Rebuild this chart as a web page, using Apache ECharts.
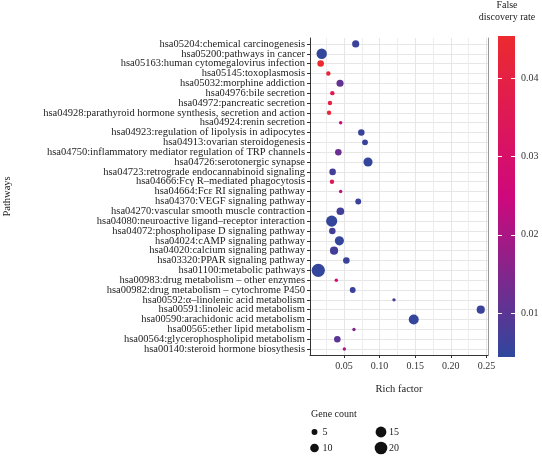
<!DOCTYPE html>
<html>
<head>
<meta charset="utf-8">
<title></title>
<script src="https://cdn.jsdelivr.net/npm/echarts@6/dist/echarts.min.js"></script>
<style>
  html, body { margin: 0; padding: 0; background: #fff; }
  #chart { width: 542px; height: 456px; }
</style>
</head>
<body>
<div id="chart"></div>
<script>
// pathways from top to bottom
var pathways = [
  'hsa05204:chemical carcinogenesis',
  'hsa05200:pathways in cancer',
  'hsa05163:human cytomegalovirus infection',
  'hsa05145:toxoplasmosis',
  'hsa05032:morphine addiction',
  'hsa04976:bile secretion',
  'hsa04972:pancreatic secretion',
  'hsa04928:parathyroid hormone synthesis, secretion and action',
  'hsa04924:renin secretion',
  'hsa04923:regulation of lipolysis in adipocytes',
  'hsa04913:ovarian steroidogenesis',
  'hsa04750:inflammatory mediator regulation of TRP channels',
  'hsa04726:serotonergic synapse',
  'hsa04723:retrograde endocannabinoid signaling',
  'hsa04666:Fc\u03b3 R\u2013mediated phagocytosis',
  'hsa04664:Fc\u03b5 RI signaling pathway',
  'hsa04370:VEGF signaling pathway',
  'hsa04270:vascular smooth muscle contraction',
  'hsa04080:neuroactive ligand\u2013receptor interaction',
  'hsa04072:phospholipase D signaling pathway',
  'hsa04024:cAMP signaling pathway',
  'hsa04020:calcium signaling pathway',
  'hsa03320:PPAR signaling pathway',
  'hsa01100:metabolic pathways',
  'hsa00983:drug metabolism \u2013 other enzymes',
  'hsa00982:drug metabolism \u2013 cytochrome P450',
  'hsa00592:\u03b1\u2013linolenic acid metabolism',
  'hsa00591:linoleic acid metabolism',
  'hsa00590:arachidonic acid metabolism',
  'hsa00565:ether lipid metabolism',
  'hsa00564:glycerophospholipid metabolism',
  'hsa00140:steroid hormone biosythesis'
];
var richFactor = [0.0664, 0.0187, 0.0172, 0.0280, 0.0444, 0.0336, 0.0303, 0.0290,
  0.0453, 0.0743, 0.0795, 0.0420, 0.0837, 0.0340, 0.0331, 0.0453,
  0.0700, 0.0449, 0.0327, 0.0336, 0.0435, 0.0360, 0.0533, 0.0139,
  0.0392, 0.0622, 0.1202, 0.2420, 0.1479, 0.0640, 0.0406, 0.0505];
var fdr = [0.006, 0.005, 0.045, 0.042, 0.011, 0.036, 0.040, 0.043,
  0.024, 0.006, 0.006, 0.012, 0.005, 0.007, 0.035, 0.022,
  0.006, 0.007, 0.005, 0.007, 0.005, 0.007, 0.006, 0.005,
  0.028, 0.006, 0.008, 0.006, 0.005, 0.015, 0.010, 0.020];
var geneCount = [7, 14, 6, 3, 7, 3, 3, 3,
  2, 6, 5, 6, 11, 6, 3, 2,
  5, 8, 16, 6, 11, 9, 6, 22,
  2, 5, 2, 9, 13, 2, 6, 2];
var xTicks = [0.05, 0.10, 0.15, 0.20, 0.25];
var fdrTicks = [0.01, 0.02, 0.03, 0.04];
var sizeBreaks = [5, 10, 15, 20];

var fdrMin = 0.0044, fdrMax = 0.0454;
var fdrColors = ['#2f479d', '#cf087c', '#ec2a2f'];
var fontFam = '"Liberation Serif", "DejaVu Serif", serif';

function dotSize(n) {
  return 3.0 * Math.sqrt(n) - 0.8;
}

var points = richFactor.map(function (v, i) {
  return [v, i, fdr[i], geneCount[i]];
});

var chart = echarts.init(document.getElementById('chart'));

// colour bar + legend texts
var legendGraphics = [{
  type: 'rect', z: -1,
  shape: { x: 498, y: 36, width: 17, height: 321 },
  style: {
    fill: new echarts.graphic.LinearGradient(0, 1, 0, 0, [
      { offset: 0, color: fdrColors[0] },
      { offset: 0.5, color: fdrColors[1] },
      { offset: 1, color: fdrColors[2] }
    ])
  }
}, {
  type: 'text', left: 311, top: 409,
  style: { text: 'Gene count', font: '10px ' + fontFam, fill: '#222' }
}];
sizeBreaks.forEach(function (n, k) {
  var cx = k < 2 ? 314.5 : 381;
  var cy = k % 2 === 0 ? 432 : 448;
  legendGraphics.push({
    type: 'circle',
    shape: { cx: cx, cy: cy, r: dotSize(n) / 2 },
    style: { fill: '#111' }
  });
  legendGraphics.push({
    type: 'text', x: cx + 8, y: cy,
    style: { text: String(n), font: '10px ' + fontFam, fill: '#222', verticalAlign: 'middle' }
  });
});
legendGraphics.push({
  type: 'text', x: 507, y: 5.5,
  style: { text: 'False', font: '10px ' + fontFam, fill: '#222', align: 'center', verticalAlign: 'middle' }
});
legendGraphics.push({
  type: 'text', x: 507, y: 17,
  style: { text: 'discovery rate', font: '10px ' + fontFam, fill: '#222', align: 'center', verticalAlign: 'middle' }
});

chart.setOption({
  animation: false,
  backgroundColor: '#fff',
  textStyle: { fontFamily: fontFam },
  grid: [
    { left: 310, top: 38, width: 178, height: 317 },
    { left: 498, top: 36, width: 17, height: 321 }
  ],
  xAxis: [{
    gridIndex: 0,
    type: 'value',
    min: 0.00225,
    max: 0.2522,
    minInterval: 0.05,
    maxInterval: 0.05,
    name: 'Rich factor',
    nameLocation: 'middle',
    nameGap: 29,
    nameTextStyle: { fontSize: 10.5, color: '#222', fontFamily: fontFam },
    axisLine: { show: true, onZero: false, lineStyle: { color: '#333', width: 1 } },
    axisTick: { show: true, length: 3, lineStyle: { color: '#333' } },
    axisLabel: {
      fontSize: 10, color: '#333', margin: 6, fontFamily: fontFam,
      showMinLabel: false, showMaxLabel: false,
      formatter: function (v) {
        for (var k = 0; k < xTicks.length; k++) {
          if (Math.abs(v - xTicks[k]) < 1e-6) return xTicks[k].toFixed(2);
        }
        return '';
      }
    },
    splitLine: { show: true, lineStyle: { color: '#e6e6e6', width: 1 } },
    minorTick: { show: false, splitNumber: 2 },
    minorSplitLine: { show: true, lineStyle: { color: '#ededed', width: 1 } }
  }, {
    gridIndex: 1, type: 'value', show: false, min: 0, max: 1
  }],
  yAxis: [{
    gridIndex: 0,
    type: 'value',
    inverse: true,
    min: -0.6,
    max: 31.6,
    minInterval: 1,
    maxInterval: 1,
    name: 'Pathways',
    nameLocation: 'middle',
    nameGap: 297,
    nameRotate: 90,
    nameTextStyle: { fontSize: 10.5, color: '#222', fontFamily: fontFam },
    axisLine: { show: true, lineStyle: { color: '#333', width: 1 } },
    axisTick: { show: true, length: 3, lineStyle: { color: '#333' } },
    axisLabel: {
      fontSize: 10.5, color: '#222', margin: 5, fontFamily: fontFam,
      showMinLabel: false, showMaxLabel: false,
      formatter: function (v) {
        var i = Math.round(v);
        return Math.abs(v - i) < 1e-6 && pathways[i] ? pathways[i] : '';
      }
    },
    splitLine: { show: true, showMinLine: false, lineStyle: { color: '#e6e6e6', width: 1 } }
  }, {
    gridIndex: 0,
    type: 'value',
    position: 'right',
    min: 0, max: 1,
    axisLine: { show: true, lineStyle: { color: '#999', width: 1 } },
    axisTick: { show: false },
    axisLabel: { show: false },
    splitLine: { show: false }
  }, {
    gridIndex: 1,
    type: 'value',
    position: 'right',
    z: 10,
    min: fdrMin,
    max: fdrMax,
    minInterval: 0.01,
    maxInterval: 0.01,
    axisLine: { show: false },
    axisTick: { show: false },
    axisLabel: {
      fontSize: 10, color: '#333', margin: 6, fontFamily: fontFam,
      showMinLabel: false, showMaxLabel: false,
      formatter: function (v) {
        for (var k = 0; k < fdrTicks.length; k++) {
          if (Math.abs(v - fdrTicks[k]) < 1e-6) return fdrTicks[k].toFixed(2);
        }
        return '';
      }
    },
    // white tick dashes at both edges of the colour bar
    splitLine: {
      show: true, showMinLine: false, showMaxLine: false,
      lineStyle: { color: '#ffffff', width: 1, type: [4, 9] }
    }
  }],
  visualMap: {
    show: false,
    type: 'continuous',
    seriesIndex: 0,
    dimension: 2,
    min: fdrMin,
    max: fdrMax,
    inRange: { color: fdrColors }
  },
  graphic: legendGraphics,
  series: [{
    type: 'scatter',
    xAxisIndex: 0,
    yAxisIndex: 0,
    data: points,
    symbol: 'circle',
    symbolSize: function (d) { return dotSize(d[3]); },
    itemStyle: { opacity: 1 }
  }]
});
</script>
</body>
</html>
